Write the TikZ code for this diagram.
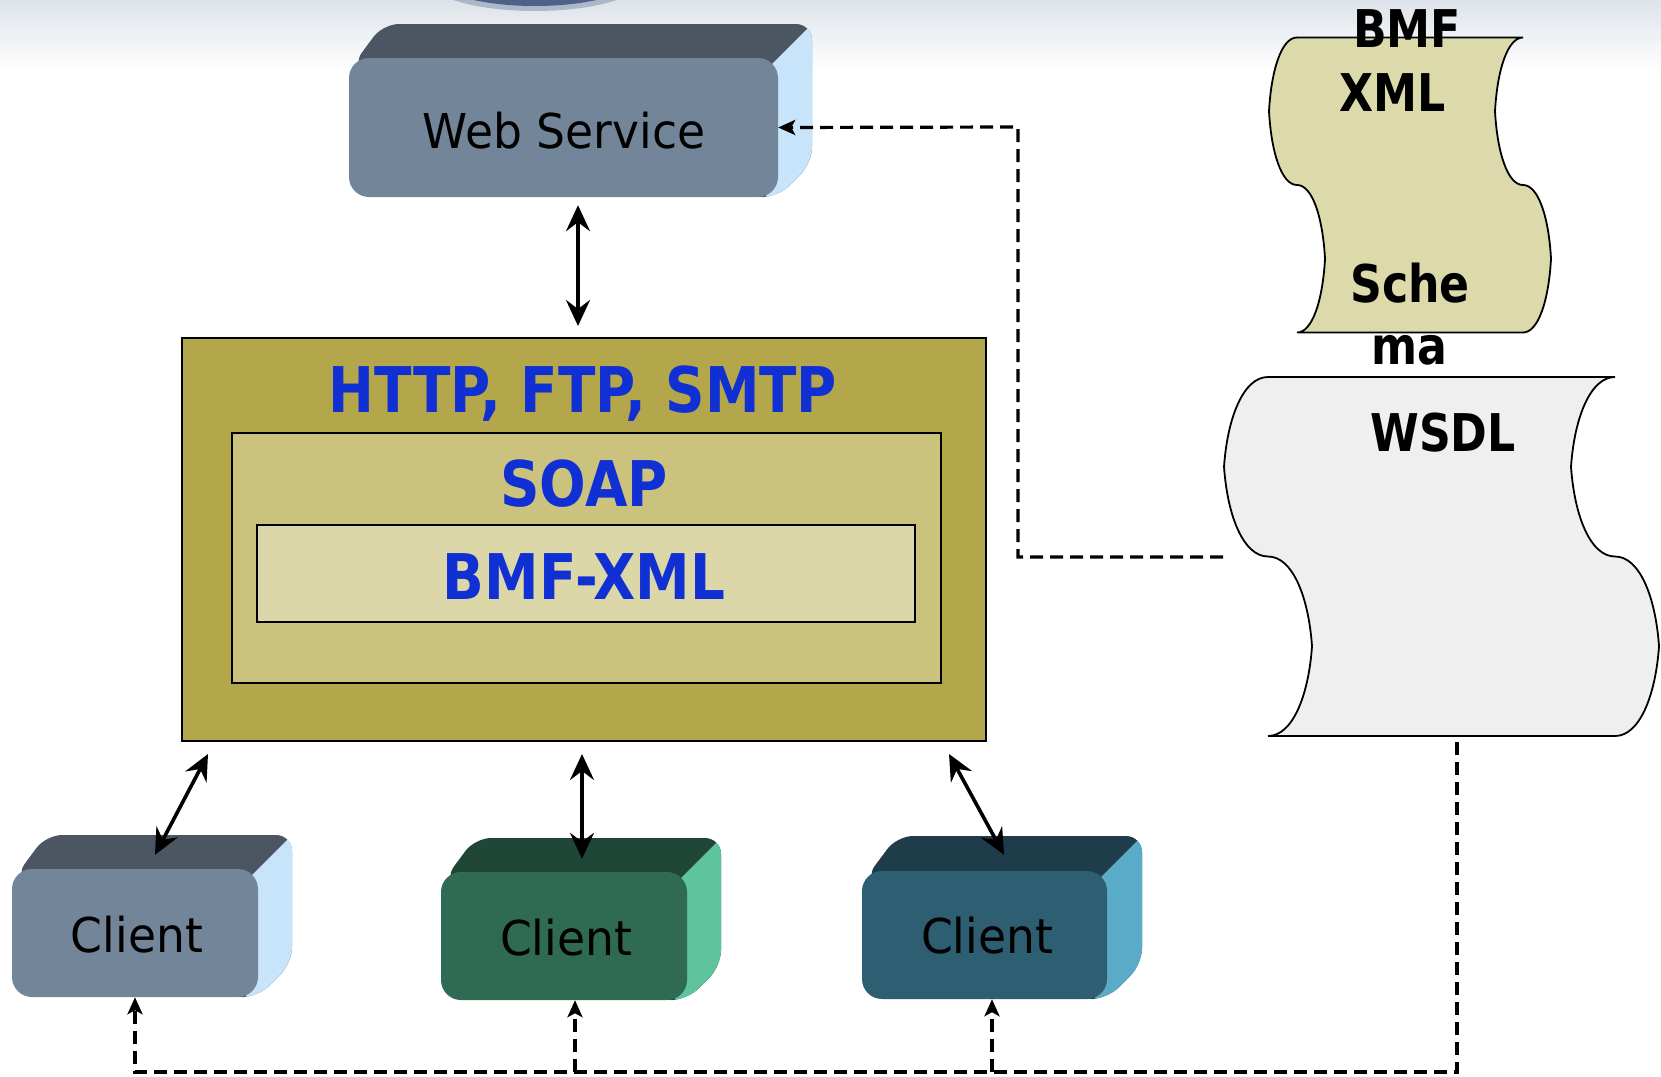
\documentclass[tikz,border=0pt]{standalone}
\usepackage{fontspec}
\usetikzlibrary{arrows.meta,calc}

% Fonts for the box labels, the protocol layers and the documents
\newfontfamily\labelfont[FakeStretch=0.95]{DejaVu Sans}
\newfontfamily\layerfont[FakeStretch=0.87]{DejaVu Sans}
\newfontfamily\docfont[FakeStretch=0.85]{DejaVu Sans}

\definecolor{bgtop}{HTML}{DDE3EA}
\definecolor{ellblue}{HTML}{4E6288}
\definecolor{slateFront}{HTML}{738599}
\definecolor{slateTop}{HTML}{4B5662}
\definecolor{slateSide}{HTML}{C8E4FB}
\definecolor{greenFront}{HTML}{2F6B53}
\definecolor{greenTop}{HTML}{1F4636}
\definecolor{greenSide}{HTML}{5FC39D}
\definecolor{tealFront}{HTML}{2D5E72}
\definecolor{tealTop}{HTML}{1E3C4A}
\definecolor{tealSide}{HTML}{5AABC8}
\definecolor{layerOuter}{HTML}{B4A64B}
\definecolor{layerMid}{HTML}{CBC27D}
\definecolor{layerInner}{HTML}{DCD7A8}
\definecolor{layerBlue}{HTML}{1030D4}
\definecolor{schemaFill}{HTML}{DCD9AA}
\definecolor{wsdlFill}{HTML}{EFEFEF}

% A bevelled 3D slab: front face (#1,#2)-(#3,#4), depth #9,
% top colour #5, side colour #6, front colour #7, front node named #8
\newcommand\slab[9]{%
  \begin{scope}
    \path[clip, rounded corners=16pt]
      ({#1+3},{#2+8}) -- ({#1+#9},{#2-#9}) -- ({#3+#9},{#2-#9})
      -- ({#3+#9},{#4-#9}) -- ({#3},{#4}) -- ({#3-30},{#4}) -- cycle;
    \fill[#5] ({#1-10},{#2-#9-10}) rectangle ({#3+#9+10},{#4+10});
    \fill[#6] ({#3-12},{#2+12}) -- ({#3+#9+40},{#2-#9-40})
      -- ({#3+#9+40},{#4+40}) -- ({#3-12},{#4+40}) -- cycle;
  \end{scope}
  \node[fill=#7, rounded corners=20pt, inner sep=0pt,
        minimum width={(#3-#1)*1pt}, minimum height={(#4-#2)*1pt}]
        (#8) at ({(#1+#3)/2},{(#2+#4)/2}) {};
}

% Punched-tape outline with wavy sides: top-left (#1,#2), width #3, height #4, wave depth #5
\newcommand\tapepath[5]{%
  ({#1},{#2})
  .. controls ({#1-0.55*#5},{#2}) and ({#1-0.92*#5},{#2+0.11*#4}) .. ({#1-#5},{#2+0.25*#4})
  .. controls ({#1-0.92*#5},{#2+0.39*#4}) and ({#1-0.55*#5},{#2+0.5*#4}) .. ({#1},{#2+0.5*#4})
  .. controls ({#1+0.55*#5},{#2+0.5*#4}) and ({#1+0.92*#5},{#2+0.61*#4}) .. ({#1+#5},{#2+0.75*#4})
  .. controls ({#1+0.92*#5},{#2+0.89*#4}) and ({#1+0.55*#5},{#2+#4}) .. ({#1},{#2+#4})
  -- ({#1+#3},{#2+#4})
  .. controls ({#1+#3+0.55*#5},{#2+#4}) and ({#1+#3+0.92*#5},{#2+0.89*#4}) .. ({#1+#3+#5},{#2+0.75*#4})
  .. controls ({#1+#3+0.92*#5},{#2+0.61*#4}) and ({#1+#3+0.55*#5},{#2+0.5*#4}) .. ({#1+#3},{#2+0.5*#4})
  .. controls ({#1+#3-0.55*#5},{#2+0.5*#4}) and ({#1+#3-0.92*#5},{#2+0.39*#4}) .. ({#1+#3-#5},{#2+0.25*#4})
  .. controls ({#1+#3-0.92*#5},{#2+0.11*#4}) and ({#1+#3-0.55*#5},{#2}) .. ({#1+#3},{#2})
  -- cycle}

\tikzset{
  boxlabel/.style={anchor=base, text=black, font=\labelfont\fontsize{48}{54}\selectfont},
  layerlabel/.style={anchor=base, text=layerBlue, font=\layerfont\bfseries\fontsize{63}{70}\selectfont},
  doclabel/.style={anchor=base, text=black, font=\docfont\bfseries\fontsize{52}{60}\selectfont},
  layerbox/.style={draw=black, line width=2pt, inner sep=0pt},
  biarrow/.style={line width=3.6pt,
    {Stealth[length=26pt,width=24pt,inset=9pt]}-{Stealth[length=26pt,width=24pt,inset=9pt]}},
  dashconn/.style={line width=3.2pt, dash pattern=on 13pt off 7pt},
  dashtip/.style={-{Stealth[length=17pt,width=15pt,inset=4pt]}},
  tapeline/.style={draw=black, line width=1.8pt},
}

\begin{document}
\begin{tikzpicture}[x=1pt,y=-1pt]
  \useasboundingbox (0,0) rectangle (1661,1076);
  \fill[white] (0,0) rectangle (1661,1076);
  \shade[top color=bgtop, bottom color=white] (0,0) rectangle (1661,70);

  % dark disc peeking in at the top edge
  \fill[ellblue, opacity=0.35] (535,-18) ellipse [x radius=104, y radius=29];
  \fill[ellblue] (535,-19) ellipse [x radius=94, y radius=25];

  % web service and the three clients
  \slab{349}{58}{778}{197}{slateTop}{slateSide}{slateFront}{ws}{34}
  \node[boxlabel] (wslabel) at (564,148) {Web Service};

  \slab{12}{869}{258}{997}{slateTop}{slateSide}{slateFront}{c1}{34}
  \node[boxlabel] (c1label) at (137,952) {Client};

  \slab{441}{872}{687}{1000}{greenTop}{greenSide}{greenFront}{c2}{34}
  \node[boxlabel] (c2label) at (566,955) {Client};

  \slab{862}{871}{1107}{999}{tealTop}{tealSide}{tealFront}{c3}{35}
  \node[boxlabel] (c3label) at (987,953) {Client};

  % protocol stack
  \node[layerbox, fill=layerOuter, minimum width=804pt, minimum height=403pt] (stack) at (584,539.5) {};
  \node[layerbox, fill=layerMid, minimum width=709pt, minimum height=250pt] (soap) at (586.5,558) {};
  \node[layerbox, fill=layerInner, minimum width=658pt, minimum height=97pt] (bmfxml) at (586,573.5) {};
  \node[layerlabel] (transport) at (583,412) {HTTP, FTP, SMTP};
  \node[layerlabel] (soaplabel) at (584,506) {SOAP};
  \node[layerlabel] (bmflabel) at (584,599) {BMF-XML};

  % schema and WSDL documents
  \path[tapeline, fill=schemaFill] \tapepath{1297}{37.5}{226}{295}{28};
  \path[tapeline, fill=wsdlFill] \tapepath{1268}{377}{347}{359}{44};
  \coordinate (wsdlW) at (1223,557);
  \coordinate (wsdlS) at (1457,742);
  \node[doclabel] (schemaA) at (1407,47) {BMF};
  \node[doclabel] (schemaB) at (1393,111) {XML};
  \node[doclabel] (schemaC) at (1410,302) {Sche};
  \node[doclabel] (schemaD) at (1409,364) {ma};
  \node[doclabel] (wsdllabel) at (1443,451) {WSDL};

  % message exchange
  \draw[biarrow] ($(ws.south)+(14.5,8)$) -- ($(stack.north)+(-6,-11)$);
  \draw[biarrow] ($(stack.south west)+(27,12)$) -- ($(c1.north)+(20,-14)$);
  \draw[biarrow] ($(stack.south)+(-2,12)$) -- ($(c2.north)+(18,-13)$);
  \draw[biarrow] ($(stack.south east)+(-38,12)$) -- ($(c3.north)+(19.5,-16)$);

  % description links
  \coordinate (wsjoin) at (1018,127);
  \coordinate (busL) at (135,1072);
  \draw[dashconn, dashtip] (wsdlW) -| (wsjoin) -- (ws.east);
  \draw[dashconn, dashtip] (wsdlS) |- (busL) -- (c1.south);
  \draw[dashconn, dashtip] ([xshift=11pt]c2.south |- busL) -- ([xshift=11pt]c2.south);
  \draw[dashconn, dashtip] ([xshift=7.5pt]c3.south |- busL) -- ([xshift=7.5pt]c3.south);
\end{tikzpicture}
\end{document}
